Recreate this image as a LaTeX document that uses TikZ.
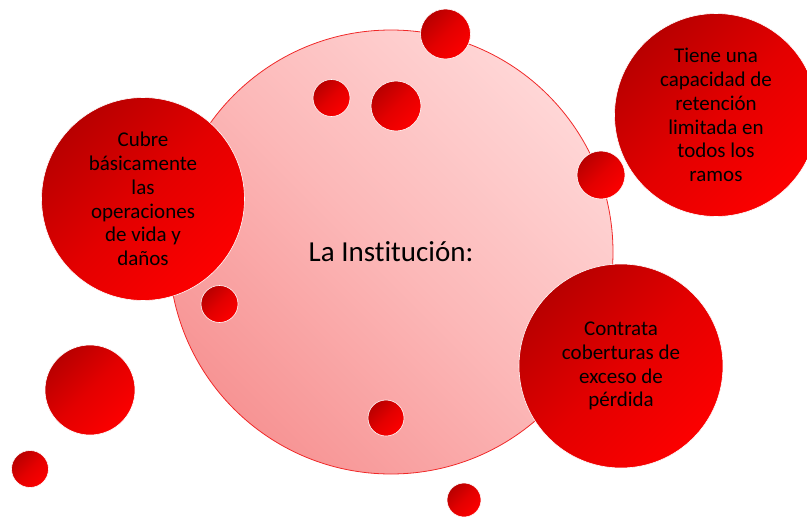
\documentclass[tikz,border=0pt]{standalone}
\usepackage{fontspec}
\setmainfont[Ligatures=NoCommon]{Carlito}
\usepackage{tikz}
\definecolor{RedDark}{HTML}{B80000}
\definecolor{RedMid}{HTML}{E30000}
\definecolor{RedLight}{HTML}{FC0000}
\definecolor{PinkLight}{HTML}{FFD6D6}
\definecolor{PinkMid}{HTML}{FCB8B8}
\definecolor{PinkDark}{HTML}{F79494}
\definecolor{PinkEdge}{HTML}{F02828}

\begin{document}
\begin{tikzpicture}[x=1pt, y=-1pt,
  bubble/.style={circle, inner sep=0pt, draw=white, line width=0.6pt,
    top color=RedDark, bottom color=RedLight, middle color=RedMid,
    shading angle=45, align=center, text=black,
    font=\fontsize{21}{23.8}\selectfont},
  drop/.style={bubble, minimum size=#1},
  mainbubble/.style={circle, inner sep=0pt, draw=PinkEdge, line width=0.8pt,
    top color=PinkLight, bottom color=PinkDark, middle color=PinkMid,
    shading angle=-45, font=\fontsize{29}{34}\selectfont}]
  \useasboundingbox (0,0) rectangle (807,517);
  \clip (0,0) rectangle (807,517);

  \node[mainbubble, minimum size=444pt] (inst) at (391,252) {La Institución:};

  \node[drop=50pt] (d1) at (445.5,34) {};
  \node[drop=37pt] (d2) at (331.5,98) {};
  \node[drop=50pt] (d3) at (396,106) {};
  \node[drop=48pt] (d4) at (601,175) {};
  \node[drop=37pt] (d5) at (219.5,304) {};
  \node[drop=90pt] (d6) at (90,390) {};
  \node[drop=37pt] (d7) at (30,469) {};
  \node[drop=36pt] (d8) at (386,418) {};
  \node[drop=34pt] (d9) at (464,500) {};

  \node[drop=203pt] (cubre) at (143,199)
    {Cubre\\básicamente\\las\\operaciones\\de vida y\\daños};
  \node[drop=203pt] (retencion) at (716,115)
    {Tiene una\\capacidad de\\retención\\limitada en\\todos los\\ramos};
  \node[drop=204pt] (exceso) at (621,366)
    {Contrata\\coberturas de\\exceso de\\pérdida};
\end{tikzpicture}
\end{document}
